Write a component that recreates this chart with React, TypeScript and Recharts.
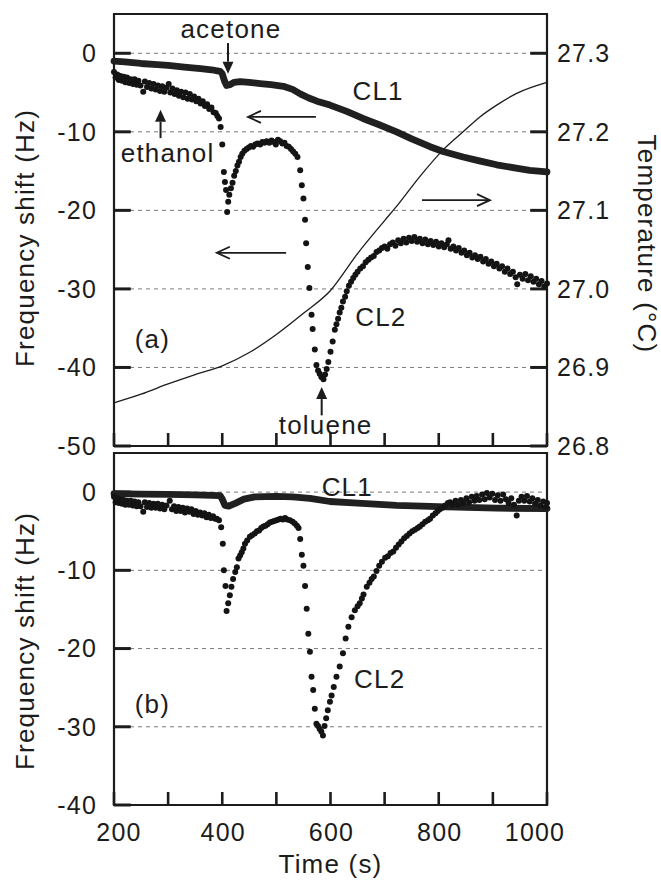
import {
  CartesianGrid,
  ComposedChart,
  Line,
  ReferenceArea,
  ReferenceDot,
  ReferenceLine,
  Scatter,
  XAxis,
  YAxis,
} from "recharts";

// time axis (s)
const timeTicks = [200, 300, 400, 500, 600, 700, 800, 900, 1000];
const shiftTicksTop = [-50, -40, -30, -20, -10, 0];
const shiftTicksBottom = [-40, -30, -20, -10, 0];
const tempTicks = [26.8, 26.9, 27.0, 27.1, 27.2, 27.3];

// panel (a): CL1 frequency shift [t, Hz]
const cl1Top: [number, number][] = [
  [200, -1.0], [220, -1.1], [250, -1.3], [280, -1.45], [300, -1.55], [330, -1.75],
  [360, -1.95], [380, -2.1], [396, -2.3], [400, -2.6], [404, -3.5], [408, -4.1],
  [414, -4.0], [422, -3.7], [433, -3.6], [450, -3.7], [470, -3.85], [490, -4.0],
  [513, -4.2], [530, -4.6], [545, -5.2], [560, -5.7], [575, -6.1], [599, -6.6],
  [630, -7.4], [660, -8.3], [690, -9.1], [722, -10.0], [750, -10.9], [784, -11.9],
  [808, -12.5], [845, -13.2], [875, -13.7], [907, -14.2], [940, -14.6], [968, -14.9],
  [1000, -15.1],
];

// panel (a): CL2 frequency shift [t, Hz]
const cl2Top: [number, number][] = [
  [200, -2.4], [203, -3.1], [206, -2.7], [209, -3.4], [212, -2.9], [215, -3.5],
  [218, -3.0], [221, -3.7], [224, -3.1], [228, -3.8], [231, -3.3], [235, -3.9],
  [238, -3.3], [242, -4.0], [245, -3.5], [249, -4.1], [254, -4.9], [257, -3.6],
  [261, -4.3], [265, -3.8], [269, -4.5], [273, -3.9], [277, -4.6], [281, -4.1],
  [285, -4.8], [289, -4.2], [293, -4.9], [297, -4.4], [301, -3.9], [304, -5.0],
  [308, -4.5], [312, -5.2], [316, -4.7], [320, -5.4], [324, -4.9], [328, -5.6],
  [332, -5.0], [336, -5.8], [340, -5.2], [344, -5.9], [348, -5.5], [352, -6.1],
  [356, -5.8], [360, -6.4], [364, -6.1], [368, -6.7], [372, -6.5], [376, -7.1],
  [380, -6.9], [384, -7.5], [388, -7.6], [391, -8.0], [394, -8.3],
  [397, -9.4], [400, -11.6], [403, -15.1], [405, -16.4], [407, -17.4], [409, -20.2],
  [411, -18.9], [413, -18.0], [416, -17.2], [419, -16.5], [422, -15.6], [425, -15.0],
  [428, -14.3], [431, -13.8], [434, -13.2], [437, -12.8], [441, -12.4], [445, -12.2],
  [449, -12.0], [453, -11.8], [457, -11.9], [461, -11.6], [465, -11.5], [470, -11.6],
  [474, -11.3], [478, -11.4], [482, -11.2], [487, -11.4], [491, -11.1], [495, -11.3],
  [499, -11.6], [503, -11.0], [507, -11.2], [511, -11.5], [515, -11.4], [519, -11.8],
  [523, -11.9], [527, -12.2], [531, -12.5], [535, -12.8], [539, -13.2], [544, -14.9],
  [547, -16.8], [550, -18.5], [553, -21.2], [555, -24.2], [558, -27.2], [561, -29.9],
  [565, -33.3], [567, -35.1], [571, -37.7], [574, -39.7], [577, -40.4], [580, -40.8],
  [583, -41.2], [587, -41.5], [590, -40.9], [593, -40.2], [596, -39.3], [600, -38.0],
  [604, -36.7], [608, -35.2], [611, -34.5], [614, -33.8], [617, -33.0], [620, -32.4],
  [623, -31.6], [627, -31.0], [630, -30.3], [634, -29.6], [638, -29.1], [642, -28.6],
  [646, -28.2], [650, -27.8], [655, -27.4], [660, -27.1], [665, -26.6], [670, -26.3],
  [675, -26.0], [680, -25.8], [685, -25.3], [690, -25.1], [695, -24.8], [700, -24.6],
  [705, -24.9], [710, -24.3], [715, -24.1], [720, -24.5], [725, -23.8], [730, -24.2],
  [735, -23.6], [740, -24.1], [745, -23.5], [750, -23.9], [755, -23.4], [760, -24.0],
  [765, -23.6], [770, -24.2], [775, -23.7], [780, -24.3], [785, -23.9], [790, -24.4],
  [795, -24.0], [800, -24.6], [805, -24.2], [810, -24.7], [815, -24.3], [818, -23.8],
  [822, -24.9], [827, -24.6], [832, -25.1], [837, -24.8], [842, -25.4], [847, -25.1],
  [852, -25.7], [857, -25.4], [862, -26.0], [867, -25.7], [872, -26.2], [877, -25.9],
  [882, -26.5], [887, -26.2], [892, -26.8], [897, -26.5], [902, -27.1], [907, -26.8],
  [912, -27.4], [917, -27.1], [922, -27.8], [927, -27.4], [932, -28.1], [937, -27.8],
  [942, -28.5], [945, -29.4], [950, -28.2], [955, -28.7], [960, -28.1], [965, -28.9],
  [970, -28.4], [975, -29.1], [980, -28.7], [985, -29.4], [990, -29.0], [995, -29.7],
  [1000, -29.3],
];

// panel (a): temperature [t, °C]
const tempTop: [number, number][] = [
  [200, 26.855], [250, 26.866], [300, 26.879], [350, 26.891], [400, 26.902],
  [450, 26.919], [500, 26.942], [550, 26.969], [600, 26.998], [650, 27.045],
  [700, 27.087], [722, 27.105], [765, 27.143], [808, 27.177], [845, 27.2],
  [876, 27.219], [907, 27.234], [944, 27.249], [1000, 27.263],
];

// panel (b): CL1 frequency shift [t, Hz]
const cl1Bottom: [number, number][] = [
  [200, -0.2], [250, -0.25], [300, -0.3], [350, -0.35], [396, -0.45], [400, -0.9],
  [405, -1.7], [412, -1.8], [425, -1.4], [440, -0.9], [460, -0.6], [500, -0.55],
  [530, -0.6], [562, -0.8], [599, -1.2], [650, -1.4], [722, -1.7], [815, -1.9],
  [907, -2.05], [1000, -2.1],
];

// panel (b): CL2 frequency shift [t, Hz]
const cl2Bottom: [number, number][] = [
  [200, -0.6], [203, -1.3], [206, -0.8], [209, -1.4], [212, -0.9], [215, -1.5],
  [218, -1.0], [221, -1.6], [224, -1.1], [228, -1.6], [231, -1.1], [235, -1.7],
  [238, -1.2], [242, -1.8], [245, -1.3], [249, -1.8], [254, -2.5], [257, -1.3],
  [261, -1.9], [265, -1.4], [269, -2.0], [273, -1.5], [277, -2.0], [281, -1.5],
  [285, -2.1], [289, -1.6], [293, -2.2], [297, -1.7], [303, -1.1], [307, -2.2],
  [311, -1.8], [315, -2.4], [319, -1.9], [323, -2.4], [327, -2.0], [331, -2.6],
  [335, -2.1], [339, -2.5], [343, -2.2], [347, -2.8], [351, -2.4], [355, -2.9],
  [359, -2.6], [363, -3.0], [367, -2.7], [371, -3.2], [375, -2.9], [379, -3.3],
  [383, -3.1], [387, -3.4], [390, -3.4], [394, -3.6],
  [398, -4.5], [401, -6.6], [403, -10.0], [406, -12.0], [408, -15.2], [411, -14.2],
  [414, -13.2], [417, -12.1], [420, -11.1], [424, -10.2], [427, -9.6], [430, -8.5],
  [433, -8.1], [436, -7.7], [439, -7.2], [442, -6.6], [446, -6.2], [451, -5.7],
  [455, -5.5], [460, -5.3], [464, -5.0], [468, -4.9], [472, -4.6], [476, -4.4],
  [480, -4.3], [484, -4.1], [488, -3.9], [492, -3.8], [496, -3.7], [500, -3.6],
  [504, -3.5], [508, -3.4], [512, -3.5], [516, -3.3], [520, -3.5], [525, -3.6],
  [530, -3.8], [534, -4.0], [538, -4.3], [541, -4.6], [544, -6.0], [547, -8.0],
  [550, -9.4], [553, -12.0], [556, -14.9], [559, -18.1], [562, -20.4], [565, -23.6],
  [568, -25.3], [571, -27.7], [574, -29.6], [577, -29.9], [580, -30.3], [583, -30.6],
  [586, -31.1], [589, -29.9], [592, -28.9], [595, -27.9], [599, -26.8], [602, -26.0],
  [606, -24.9], [611, -23.6], [617, -22.3], [623, -20.6], [628, -18.7], [633, -17.2],
  [639, -16.0], [645, -15.1], [650, -14.6], [654, -14.2], [658, -13.6], [661, -13.1],
  [667, -12.1], [672, -11.6], [676, -11.1], [680, -10.8], [685, -10.1], [690, -9.4],
  [695, -8.9], [701, -8.4], [706, -8.2], [711, -7.8], [716, -7.6], [721, -7.1],
  [726, -6.7], [731, -6.3], [736, -5.9], [741, -5.6], [746, -5.3], [751, -5.0],
  [756, -4.8], [761, -4.6], [765, -4.4], [770, -4.1], [775, -3.8], [780, -3.6],
  [784, -3.4], [789, -3.0], [794, -2.7], [798, -2.4], [802, -2.2], [807, -2.0],
  [812, -1.7], [817, -1.4], [821, -1.3], [826, -1.6], [831, -1.1], [836, -1.6],
  [841, -1.0], [846, -1.4], [851, -0.8], [856, -1.3], [861, -0.6], [866, -1.1],
  [870, -0.5], [875, -1.0], [880, -0.3], [885, -0.9], [889, -0.1], [894, -0.7],
  [899, -0.2], [904, -1.0], [909, -0.4], [914, -1.1], [919, -0.3], [924, -0.9],
  [929, -1.4], [934, -0.8], [939, -1.6], [944, -3.0], [948, -1.1], [953, -0.6],
  [958, -1.1], [963, -0.5], [968, -1.2], [973, -0.8], [978, -1.5], [983, -1.0],
  [988, -1.7], [993, -1.2], [998, -1.9], [1000, -1.4],
];

// annotations, in data units (t, Hz)
const notesTop = [
  { text: "acetone", t: 416, v: 3.1 },
  { text: "ethanol", t: 299, v: -12.7 },
  { text: "CL1", t: 688, v: -4.8 },
  { text: "CL2", t: 693, v: -33.6 },
  { text: "(a)", t: 271, v: -36.3 },
  { text: "toluene", t: 591, v: -47.3 },
];
const arrowsTop = [
  { from: [410.6, 1.3], to: [410.6, -2.6], solid: true },
  { from: [286, -10.8], to: [286, -7.2], solid: true },
  { from: [583.7, -46.1], to: [583.7, -42.5], solid: true },
  { from: [573, -8.1], to: [447.5, -8.1], solid: false },
  { from: [518, -25.4], to: [390, -25.4], solid: false },
  { from: [769, -18.7], to: [894.6, -18.7], solid: false },
];
const notesBottom = [
  { text: "CL1", t: 631, v: 0.66 },
  { text: "CL2", t: 691, v: -23.9 },
  { text: "(b)", t: 271, v: -27.0 },
];

const INK = "#1c1c1c";
const TICK_SPAN = 31; // inward y-tick length, in seconds of the time axis
const toRows = (pts: [number, number][]) => pts.map(([t, v]) => ({ t, v }));

function Arrow(props: any) {
  const { x1, y1, x2, y2, solid } = props;
  const a = Math.atan2(y2 - y1, x2 - x1);
  const len = solid ? 12 : 13;
  const half = solid ? 5.5 : 6;
  const bx = x2 - len * Math.cos(a);
  const by = y2 - len * Math.sin(a);
  const px = -Math.sin(a) * half;
  const py = Math.cos(a) * half;
  if (solid) {
    return (
      <g>
        <line x1={x1} y1={y1} x2={bx} y2={by} stroke={INK} strokeWidth={2} />
        <polygon points={`${x2},${y2} ${bx + px},${by + py} ${bx - px},${by - py}`} fill={INK} />
      </g>
    );
  }
  return (
    <g fill="none" stroke={INK} strokeWidth={1.8}>
      <line x1={x1} y1={y1} x2={x2} y2={y2} />
      <polyline points={`${bx + px},${by + py} ${x2},${y2} ${bx - px},${by - py}`} />
    </g>
  );
}

function TimeTick(props: any) {
  const { x, y, payload } = props;
  if (payload.value % 200 !== 0) return <g />;
  const nudge = payload.value === 200 ? 5 : payload.value === 1000 ? -12 : 1;
  return (
    <text x={x + nudge} y={y} dy="0.71em" textAnchor="middle" fontSize={25} fill={INK}>
      {payload.value}
    </text>
  );
}

const dot = (p: any) => <circle cx={p.cx} cy={p.cy} r={3} fill="#141414" />;
const tickStyle = { fontSize: 25, fill: INK };
const tickLine = { stroke: INK, strokeWidth: 2.6 };
const tickMark = (p: any) => (
  <line x1={p.x1} y1={p.y1} x2={p.x2} y2={p.y2} stroke={INK} strokeWidth={3} />
);

function TopPanel() {
  return (
    <ComposedChart width={661} height={460} margin={{ top: 14, right: 0, bottom: 0, left: 0 }}>
      <CartesianGrid yAxisId="left" vertical={false} stroke="#7a7a7a" strokeDasharray="4 4" />
      <XAxis
        dataKey="t"
        type="number"
        domain={[200, 1000]}
        ticks={timeTicks}
        height={14}
        axisLine={false}
        tickLine={tickLine}
        tickSize={-13}
        tick={() => <g />}
      />
      <YAxis
        yAxisId="left"
        type="number"
        domain={[-50, 5]}
        ticks={shiftTicksTop}
        width={114}
        axisLine={false}
        tickLine={false}
        tickSize={0}
        tickMargin={17}
        tick={tickStyle}
        label={{ value: "Frequency shift (Hz)", angle: -90, position: "center", dx: -32, dy: 8, fontSize: 26, fill: INK }}
      />
      <YAxis
        yAxisId="right"
        orientation="right"
        type="number"
        domain={[26.8, 27.35]}
        ticks={tempTicks}
        width={114}
        axisLine={false}
        tickLine={false}
        tickSize={0}
        tickMargin={10}
        tick={tickStyle}
        tickFormatter={(v: number) => v.toFixed(1)}
        label={{ value: "Temperature (°C)", angle: 90, position: "center", dx: 43, dy: 14, fontSize: 26, fill: INK }}
      />
      {shiftTicksTop.map((v) => (
        <ReferenceLine key={`l${v}`} yAxisId="left" segment={[{ x: 200, y: v }, { x: 200 + TICK_SPAN, y: v }]} shape={tickMark} />
      ))}
      {tempTicks.map((v) => (
        <ReferenceLine key={`r${v}`} yAxisId="right" segment={[{ x: 1000 - TICK_SPAN, y: v }, { x: 1000, y: v }]} shape={tickMark} />
      ))}
      <Line
        yAxisId="right"
        data={tempTop.map(([t, temp]) => ({ t, temp }))}
        dataKey="temp"
        type="monotone"
        stroke={INK}
        strokeWidth={1.3}
        dot={false}
        isAnimationActive={false}
      />
      <Line
        yAxisId="left"
        data={toRows(cl1Top)}
        dataKey="v"
        type="linear"
        stroke="#202020"
        strokeWidth={6.8}
        strokeLinecap="round"
        strokeLinejoin="round"
        dot={false}
        isAnimationActive={false}
      />
      <Scatter yAxisId="left" data={toRows(cl2Top)} dataKey="v" shape={dot} isAnimationActive={false} />
      {arrowsTop.map((a, i) => (
        <ReferenceLine
          key={i}
          yAxisId="left"
          segment={[{ x: a.from[0], y: a.from[1] }, { x: a.to[0], y: a.to[1] }]}
          shape={(p: any) => <Arrow {...p} solid={a.solid} />}
        />
      ))}
      {notesTop.map((n) => (
        <ReferenceDot
          key={n.text}
          yAxisId="left"
          x={n.t}
          y={n.v}
          r={0}
          stroke="none"
          label={{ value: n.text, position: "center", fontSize: 26, fill: INK }}
        />
      ))}
      <ReferenceArea yAxisId="left" x1={200} x2={1000} y1={-50} y2={5} fill="none" stroke={INK} strokeWidth={2.2} />
    </ComposedChart>
  );
}

function BottomPanel() {
  return (
    <ComposedChart width={661} height={442} margin={{ top: 14, right: 114, bottom: 0, left: 0 }}>
      <CartesianGrid vertical={false} stroke="#7a7a7a" strokeDasharray="4 4" />
      <XAxis
        dataKey="t"
        type="number"
        domain={[200, 1000]}
        ticks={timeTicks}
        height={76}
        axisLine={false}
        tickLine={tickLine}
        tickSize={-13}
        tickMargin={31}
        tick={TimeTick}
        label={{ value: "Time (s)", position: "insideBottom", offset: 8, fontSize: 26, fill: INK }}
      />
      <YAxis
        type="number"
        domain={[-40, 5]}
        ticks={shiftTicksBottom}
        width={114}
        axisLine={false}
        tickLine={false}
        tickSize={0}
        tickMargin={17}
        tick={tickStyle}
        label={{ value: "Frequency shift (Hz)", angle: -90, position: "center", dx: -32, dy: 12, fontSize: 26, fill: INK }}
      />
      {shiftTicksBottom.map((v) => (
        <ReferenceLine key={`l${v}`} segment={[{ x: 200, y: v }, { x: 200 + TICK_SPAN, y: v }]} shape={tickMark} />
      ))}
      <Line
        data={toRows(cl1Bottom)}
        dataKey="v"
        type="linear"
        stroke="#202020"
        strokeWidth={6.8}
        strokeLinecap="round"
        strokeLinejoin="round"
        dot={false}
        isAnimationActive={false}
      />
      <Scatter data={toRows(cl2Bottom)} dataKey="v" shape={dot} isAnimationActive={false} />
      {notesBottom.map((n) => (
        <ReferenceDot
          key={n.text}
          x={n.t}
          y={n.v}
          r={0}
          stroke="none"
          label={{ value: n.text, position: "center", fontSize: 26, fill: INK }}
        />
      ))}
      <ReferenceArea x1={200} x2={1000} y1={-40} y2={5} fill="none" stroke={INK} strokeWidth={2.2} />
    </ComposedChart>
  );
}

export default function App() {
  return (
    <div
      style={{
        position: "absolute",
        left: 0,
        top: 0,
        width: 661,
        height: 881,
        background: "#fff",
        fontFamily: '"Liberation Sans", Arial, sans-serif',
        letterSpacing: "1.2px",
      }}
    >
      <div style={{ position: "absolute", left: 0, top: 0 }}>
        <TopPanel />
      </div>
      <div style={{ position: "absolute", left: 0, top: 439 }}>
        <BottomPanel />
      </div>
    </div>
  );
}
